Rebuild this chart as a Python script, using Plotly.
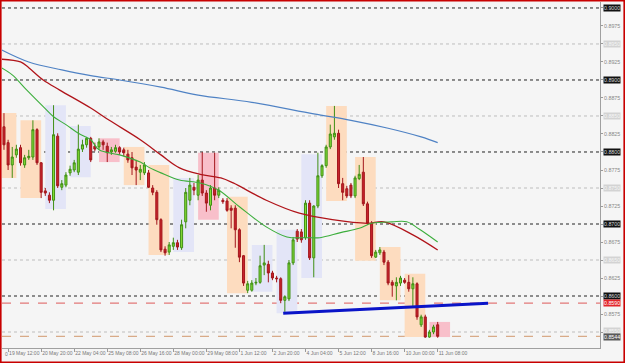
import plotly.graph_objects as go

# ---------------- data (H4 bars) ----------------
bar_open = [.8835,.8813,.8782,.8796,.8806,.8782,.8792,.8793,.8831,.8785,
            .8746,.8740,.8733,.8822,.8751,.8754,.8771,.8775,.8772,.8804,
            .8810,.8819,.8808,.8807,.8814,.8808,.8800,.8801,.8806,.8803,
            .8797,.8792,.8779,.8772,.8771,.8771,.8750,.8744,.8706,.8665,
            .8661,.8669,.8674,.8667,.8703,.8733,.8751,.8740,.8761,.8743,
            .8726,.8750,.8740,.8733,.8732,.8722,.8722,.8692,.8656,.8608,
            .8608,.8618,.8619,.8643,.8644,.8632,.8625,.8624,.8594,.8596,
            .8646,.8690,.8689,.8681,.8729,.8653,.8725,.8767,.8781,.8807,
            .8821,.8826,.8756,.8749,.8754,.8739,.8763,.8772,.8728,.8701,
            .8654,.8660,.8661,.8647,.8619,.8614,.8618,.8622,.8619,.8610,
            .8617,.8560,.8571,.8543,.8550,.8560]
bar_high = [.8854,.8817,.8807,.8810,.8810,.8796,.8803,.8844,.8833,.8786,
            .8750,.8744,.8865,.8826,.8761,.8772,.8781,.8789,.8838,.8817,
            .8821,.8821,.8813,.8819,.8817,.8813,.8807,.8810,.8808,.8806,
            .8803,.8800,.8789,.8782,.8786,.8775,.8754,.8747,.8708,.8669,
            .8675,.8681,.8678,.8706,.8750,.8764,.8757,.8768,.8800,.8747,
            .8754,.8799,.8751,.8736,.8736,.8726,.8726,.8694,.8657,.8621,
            .8622,.8625,.8656,.8671,.8649,.8635,.8628,.8626,.8601,.8650,
            .8682,.8693,.8693,.8733,.8733,.8726,.8799,.8783,.8810,.8838,
            .8864,.8831,.8764,.8753,.8757,.8767,.8782,.8793,.8731,.8704,
            .8664,.8668,.8664,.8650,.8622,.8626,.8628,.8625,.8629,.8626,
            .8619,.8574,.8574,.8553,.8560,.8564]
bar_low = [.8803,.8775,.8764,.8792,.8781,.8778,.8789,.8789,.8782,.8736,
           .8739,.8729,.8719,.8750,.8747,.8751,.8767,.8772,.8768,.8800,
           .8806,.8786,.8801,.8803,.8803,.8786,.8796,.8799,.8796,.8794,
           .8785,.8768,.8754,.8761,.8768,.8750,.8740,.8699,.8661,.8656,
           .8657,.8664,.8664,.8664,.8694,.8726,.8740,.8733,.8739,.8717,
           .8719,.8733,.8736,.8728,.8717,.8694,.8667,.8647,.8614,.8604,
           .8606,.8615,.8617,.8629,.8619,.8622,.8619,.8590,.8578,.8593,
           .8643,.8675,.8674,.8678,.8650,.8626,.8722,.8764,.8778,.8804,
           .8817,.8750,.8733,.8736,.8736,.8736,.8761,.8725,.8699,.8653,
           .8653,.8657,.8643,.8615,.8599,.8594,.8614,.8617,.8606,.8585,
           .8567,.8557,.8542,.8542,.8547,.8542]
bar_close = [.8810,.8782,.8793,.8804,.8785,.8792,.8794,.8831,.8785,.8744,
             .8743,.8733,.8824,.8753,.8756,.8768,.8776,.8785,.8804,.8810,
             .8819,.8789,.8804,.8814,.8810,.8799,.8803,.8806,.8800,.8799,
             .8789,.8778,.8775,.8776,.8782,.8751,.8744,.8706,.8664,.8660,
             .8671,.8674,.8668,.8699,.8744,.8754,.8747,.8761,.8743,.8729,
             .8750,.8740,.8747,.8731,.8719,.8719,.8692,.8654,.8618,.8617,
             .8618,.8619,.8642,.8646,.8632,.8625,.8624,.8594,.8599,.8646,
             .8678,.8679,.8678,.8729,.8653,.8725,.8767,.8781,.8807,.8825,
             .8826,.8756,.8744,.8739,.8739,.8764,.8769,.8728,.8701,.8656,
             .8661,.8664,.8647,.8618,.8615,.8619,.8625,.8619,.8610,.8617,
             .8571,.8571,.8543,.8550,.8557,.8544]

# moving averages (bar position, price)
ma_slow_x = [-1, 6, 14, 21, 28, 38, 47, 60, 75, 84, 93, 101, 105]
ma_slow_y = [.8943,.8925,.8914,.8906,.8900,.8890,.8879,.8869,.8853,.8844,.8833,.8821,.8813]
ma_mid_x = [-1, 4, 6, 9.5, 13.5, 21, 25.5, 33, 38, 42.5, 47.5, 52.5, 55.5, 63.5, 71.5, 79.5, 88, 92, 99, 105]
ma_mid_y = [.8929,.8925,.8917,.8900,.8886,.8861,.8844,.8817,.8796,.8778,.8769,.8764,.8757,.8733,.8715,.8706,.8701,.8703,.8685,.8664]
ma_fast_x = [-1, 2, 5, 9.5, 12, 15, 18, 21, 23, 28, 33, 35, 38, 42.5, 47.5, 52, 57, 63.5, 68.5, 73.5, 76.5, 81.5, 86, 89, 94, 97.5, 100.5, 105]
ma_fast_y = [.8918,.8907,.8889,.8863,.8849,.8838,.8826,.8817,.8803,.8796,.8786,.8779,.8771,.8761,.8757,.8747,.8724,.8696,.8682,.8681,.8681,.8688,.8694,.8701,.8703,.8703,.8693,.8675]

# session boxes: start bar, end bar, top, bottom, kind
box_start = [-2, 4, 10, 16, 23, 29, 35, 41, 47, 54, 60, 66, 72, 78, 85, 91, 97, 103]
box_end   = [3, 9, 15, 21, 28, 34, 40, 46, 52, 59, 65, 71, 77, 83, 90, 96, 102, 108]
box_top   = [.8854,.8844,.8865,.8836,.8819,.8807,.8782,.8764,.8799,.8738,.8671,.8692,.8797,.8864,.8793,.8668,.8631,.8564]
box_bot   = [.8764,.8736,.8721,.8765,.8786,.8754,.8657,.8661,.8706,.8604,.8606,.8576,.8625,.8732,.8649,.8594,.8543,.8543]
box_kind  = ["o","o","l","l","p","o","o","l","p","o","l","l","l","o","o","o","o","p"]

# trend line (bar, price)
trend_x = [67.6, 117.2]
trend_y = [.8576, .8590]
red_level = 0.8590
bid_level = 0.8544

x_tick_pos = [1, 9, 17, 25, 33, 41, 49, 57, 65, 73, 81, 89, 97, 105]
x_tick_txt = ["19 May 12:00", "20 May 20:00", "22 May 04:00", "25 May 08:00",
              "26 May 16:00", "28 May 00:00", "29 May 08:00", "1 Jun 12:00",
              "2 Jun 20:00", "4 Jun 04:00", "5 Jun 12:00", "8 Jun 16:00",
              "10 Jun 00:00", "11 Jun 08:00"]
round_levels = [0.9000, 0.8900, 0.8800, 0.8700, 0.8600]
half_levels = [0.8950, 0.8850, 0.8750, 0.8650, 0.8550]
y_ticks = [round(0.8525 + 0.0025 * k, 4) for k in range(20)]

# ---------------- figure ----------------
W, H = 625, 363
ML, MR, MT, MB = 2, 25, 2, 15
PW, PH = W - ML - MR, H - MT - MB
FONT = "Liberation Sans, Arial"

box_colors = {"o": "#fddcbf", "l": "#e3e5f7", "p": "#f8bfca"}

fig = go.Figure()
fig.add_trace(go.Candlestick(
    x=list(range(len(bar_open))), open=bar_open, high=bar_high, low=bar_low, close=bar_close,
    increasing=dict(line=dict(color="#3f8f14", width=1), fillcolor="#84dc36"),
    decreasing=dict(line=dict(color="#a3161c", width=1), fillcolor="#c8242b"),
    whiskerwidth=0, hoverinfo="skip", showlegend=False))
fig.add_trace(go.Scatter(x=ma_slow_x, y=ma_slow_y, mode="lines",
                         line=dict(color="#4f82c4", width=1.2, shape="spline"), showlegend=False, hoverinfo="skip"))
fig.add_trace(go.Scatter(x=ma_mid_x, y=ma_mid_y, mode="lines",
                         line=dict(color="#b0141a", width=1.3, shape="spline"), showlegend=False, hoverinfo="skip"))
fig.add_trace(go.Scatter(x=ma_fast_x, y=ma_fast_y, mode="lines",
                         line=dict(color="#3cae3c", width=1.1, shape="spline"), showlegend=False, hoverinfo="skip"))
fig.add_trace(go.Scatter(x=trend_x, y=trend_y, mode="lines",
                         line=dict(color="#0a14c8", width=3), showlegend=False, hoverinfo="skip"))

shapes = []
for s, e, t, b, k in zip(box_start, box_end, box_top, box_bot, box_kind):
    shapes.append(dict(type="rect", xref="x", yref="y", x0=s, x1=e, y0=b, y1=t,
                       fillcolor=box_colors[k], line=dict(width=0), layer="below"))
for lv in round_levels:
    shapes.append(dict(type="line", xref="paper", yref="y", x0=0, x1=1, y0=lv, y1=lv,
                       line=dict(color="#222222", width=1, dash="dot"), layer="below"))
for lv in half_levels:
    shapes.append(dict(type="line", xref="paper", yref="y", x0=0, x1=1, y0=lv, y1=lv,
                       line=dict(color="#bdbdbd", width=1, dash="dot"), layer="below"))
shapes.append(dict(type="line", xref="paper", yref="y", x0=0, x1=1, y0=red_level, y1=red_level,
                   line=dict(color="#e27878", width=1.2, dash="dash"), layer="below"))
shapes.append(dict(type="line", xref="paper", yref="y", x0=0, x1=1, y0=bid_level, y1=bid_level,
                   line=dict(color="#d8aa88", width=1.2, dash="dash"), layer="below"))
# red outer frame
shapes.append(dict(type="rect", xref="paper", yref="paper",
                   x0=(0.8 - ML) / PW, x1=(W - 0.8 - ML) / PW,
                   y0=-(H - 0.8 - MT - PH) / PH, y1=1 + (MT - 0.8) / PH,
                   line=dict(color="#c80000", width=1.6), fillcolor="rgba(0,0,0,0)"))

ann = []
lab_x = 1 + 2.5 / PW
def level_label(lv, bg, fg, shift=0):
    return dict(xref="paper", yref="y", x=lab_x, y=lv, xanchor="left", yanchor="middle",
                text=f"{lv:.4f}", showarrow=False, bgcolor=bg, yshift=shift,
                font=dict(size=5.3, color=fg, family=FONT), borderpad=0)
for lv in round_levels:
    ann.append(level_label(lv, "#111111", "#d8d8d8"))
for lv in half_levels:
    ann.append(level_label(lv, "#d3d3d3", "#f6f6f6", 1 if lv == 0.855 else 0))
ann.append(level_label(red_level, "#e3262b", "#ffffff"))
ann.append(level_label(bid_level, "#595959", "#ffffff", -1))
ann.append(dict(xref="paper", yref="paper", x=0.002, y=0, xanchor="left", yanchor="top", yshift=-1,
                text="0", showarrow=False, font=dict(size=5, color="#777777", family=FONT)))

hl = set(round(v, 4) for v in round_levels + half_levels)
y_text = ["" if v in hl else f"{v:.4f}" for v in y_ticks]

fig.update_layout(
    width=W, height=H, margin=dict(l=ML, r=MR, t=MT, b=MB, autoexpand=False),
    paper_bgcolor="#f5f5f5", plot_bgcolor="#f5f5f5",
    shapes=shapes, annotations=ann, showlegend=False,
    xaxis=dict(range=[-0.48, 144.3], showgrid=False, zeroline=False, rangeslider=dict(visible=False),
               tickmode="array", tickvals=x_tick_pos, ticktext=x_tick_txt, tickangle=0, automargin=False,
               ticklabelposition="outside right", ticks="outside", ticklen=3, tickcolor="#9a9a9a",
               tickfont=dict(size=5, color="#777777", family=FONT),
               showline=True, linecolor="#a0a0a0", linewidth=1, fixedrange=True),
    yaxis=dict(range=[0.85278, 0.90083], side="right", showgrid=False, zeroline=False, automargin=False,
               tickmode="array", tickvals=y_ticks, ticktext=y_text,
               ticks="outside", ticklen=2, tickcolor="#9a9a9a",
               tickfont=dict(size=5.3, color="#888888", family=FONT),
               showline=True, linecolor="#a0a0a0", linewidth=1, fixedrange=True),
)

fig.write_html("out.html")
